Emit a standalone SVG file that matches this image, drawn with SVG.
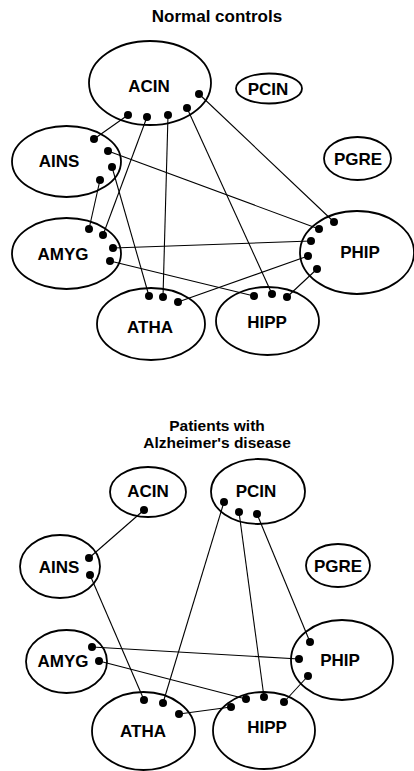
<svg xmlns="http://www.w3.org/2000/svg" width="414" height="771" viewBox="0 0 414 771">
<style>
.n ellipse{fill:none;stroke:#000;stroke-width:1.8}
.n text{font-family:"Liberation Sans",Arial,sans-serif;font-weight:bold;font-size:17px;text-anchor:middle;fill:#000}
.t{font-family:"Liberation Sans",Arial,sans-serif;font-weight:bold;font-size:17px;text-anchor:middle;fill:#000}
.t2{font-family:"Liberation Sans",Arial,sans-serif;font-weight:bold;font-size:15.5px;text-anchor:middle;fill:#000}
.c line{stroke:#000;stroke-width:1.1}
.d circle{fill:#000}
</style>
<rect width="414" height="771" fill="#fff"/>
<text class="t" x="217" y="22">Normal controls</text>
<g id="n-acin" class="n"><ellipse cx="150" cy="83" rx="61" ry="42"/><text x="149" y="92">ACIN</text></g>
<g id="n-pcin" class="n"><ellipse cx="269" cy="88.5" rx="33" ry="15"/><text x="268" y="94.5">PCIN</text></g>
<g id="n-pgre" class="n"><ellipse cx="357.5" cy="158.5" rx="33.5" ry="21.5"/><text x="358" y="165">PGRE</text></g>
<g id="n-ains" class="n"><ellipse cx="66.5" cy="161.5" rx="54.5" ry="35.5"/><text x="59" y="167">AINS</text></g>
<g id="n-amyg" class="n"><ellipse cx="66.5" cy="253.5" rx="54.5" ry="35.5"/><text x="63" y="260">AMYG</text></g>
<g id="n-phip" class="n"><ellipse cx="357" cy="252.5" rx="57" ry="41.5"/><text x="360" y="258">PHIP</text></g>
<g id="n-atha" class="n"><ellipse cx="151" cy="324" rx="54" ry="36"/><text x="150" y="333">ATHA</text></g>
<g id="n-hipp" class="n"><ellipse cx="267.5" cy="321" rx="51.5" ry="34"/><text x="267" y="328">HIPP</text></g>
<g id="connectors-top" class="c">
<line x1="128" y1="115" x2="94" y2="139"/>
<line x1="147" y1="117" x2="103" y2="235"/>
<line x1="168" y1="115" x2="163" y2="297"/>
<line x1="187" y1="108" x2="272" y2="294"/>
<line x1="199" y1="94" x2="334" y2="222"/>
<line x1="108" y1="151" x2="319" y2="229"/>
<line x1="112" y1="167" x2="149" y2="296"/>
<line x1="100" y1="180" x2="89" y2="229"/>
<line x1="113" y1="248" x2="311" y2="241"/>
<line x1="110" y1="261" x2="254" y2="296"/>
<line x1="308" y1="256" x2="178" y2="302"/>
<line x1="317" y1="269" x2="287" y2="297"/>
</g>
<g id="dots-top" class="d">
<circle cx="128" cy="115" r="4"/><circle cx="147" cy="117" r="4"/><circle cx="168" cy="115" r="4"/><circle cx="187" cy="108" r="4"/><circle cx="199" cy="94" r="4"/>
<circle cx="94" cy="139" r="4"/><circle cx="108" cy="151" r="4"/><circle cx="112" cy="167" r="4"/><circle cx="100" cy="180" r="4"/>
<circle cx="89" cy="229" r="4"/><circle cx="103" cy="235" r="4"/><circle cx="113" cy="248" r="4"/><circle cx="110" cy="261" r="4"/>
<circle cx="334" cy="222" r="4"/><circle cx="319" cy="229" r="4"/><circle cx="311" cy="241" r="4"/><circle cx="308" cy="256" r="4"/><circle cx="317" cy="269" r="4"/>
<circle cx="149" cy="296" r="4"/><circle cx="163" cy="297" r="4"/><circle cx="178" cy="302" r="4"/>
<circle cx="254" cy="296" r="4"/><circle cx="272" cy="294" r="4"/><circle cx="287" cy="297" r="4"/>
</g>
<text class="t2" x="217" y="431">Patients with</text>
<text class="t2" x="217" y="448">Alzheimer's disease</text>
<g id="n2-acin" class="n"><ellipse cx="148" cy="492" rx="38" ry="25"/><text x="148" y="497">ACIN</text></g>
<g id="n2-pcin" class="n"><ellipse cx="258" cy="491.5" rx="47" ry="32.5"/><text x="256" y="497">PCIN</text></g>
<g id="n2-pgre" class="n"><ellipse cx="338" cy="565.5" rx="32" ry="21.5"/><text x="338" y="572">PGRE</text></g>
<g id="n2-ains" class="n"><ellipse cx="60" cy="566.5" rx="40" ry="31.5"/><text x="59" y="573">AINS</text></g>
<g id="n2-amyg" class="n"><ellipse cx="66.5" cy="661.5" rx="40.5" ry="31.5"/><text x="63" y="667">AMYG</text></g>
<g id="n2-phip" class="n"><ellipse cx="342" cy="660" rx="51" ry="40"/><text x="340" y="666">PHIP</text></g>
<g id="n2-atha" class="n"><ellipse cx="143.5" cy="731" rx="51.5" ry="39"/><text x="143" y="737">ATHA</text></g>
<g id="n2-hipp" class="n"><ellipse cx="264" cy="730.5" rx="51" ry="38.5"/><text x="267" y="733">HIPP</text></g>
<g id="connectors-bottom" class="c">
<line x1="144" y1="510" x2="89" y2="558"/>
<line x1="90" y1="575" x2="144" y2="700"/>
<line x1="224" y1="502" x2="163" y2="703"/>
<line x1="239" y1="512" x2="264" y2="697"/>
<line x1="257" y1="514" x2="310" y2="642"/>
<line x1="92" y1="647" x2="299" y2="659"/>
<line x1="99" y1="661" x2="246" y2="699"/>
<line x1="179" y1="714" x2="231" y2="707"/>
<line x1="308" y1="676" x2="284" y2="702"/>
</g>
<g id="dots-bottom" class="d">
<circle cx="144" cy="510" r="4"/>
<circle cx="224" cy="502" r="4"/><circle cx="239" cy="512" r="4"/><circle cx="257" cy="514" r="4"/>
<circle cx="89" cy="558" r="4"/><circle cx="90" cy="575" r="4"/>
<circle cx="92" cy="647" r="4"/><circle cx="99" cy="661" r="4"/>
<circle cx="310" cy="642" r="4"/><circle cx="299" cy="659" r="4"/><circle cx="308" cy="676" r="4"/>
<circle cx="144" cy="700" r="4"/><circle cx="163" cy="703" r="4"/><circle cx="179" cy="714" r="4"/>
<circle cx="231" cy="707" r="4"/><circle cx="246" cy="699" r="4"/><circle cx="264" cy="697" r="4"/><circle cx="284" cy="702" r="4"/>
</g>
</svg>
